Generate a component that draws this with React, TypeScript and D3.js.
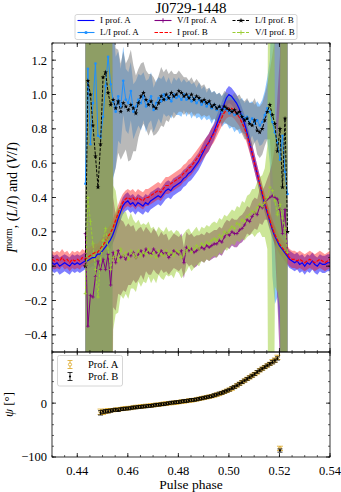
import React from 'react';
import * as d3 from 'd3';

const TITLE = 'J0729-1448';
const X_TICKS = [0.44, 0.46, 0.48, 0.5, 0.52, 0.54];
const X_TICK_LABELS = ['0.44', '0.46', '0.48', '0.50', '0.52', '0.54'];
const Y_TICKS_TOP = [-0.4, -0.2, 0, 0.2, 0.4, 0.6, 0.8, 1.0, 1.2];
const Y_TICK_LABELS_TOP = ['\u22120.4', '\u22120.2', '0.0', '0.2', '0.4', '0.6', '0.8', '1.0', '1.2'];
const Y_TICKS_PA = [-100, 0];
const Y_TICK_LABELS_PA = ['\u2212100', '0'];

// phase bins
const BIN = 0.001;
const I_PHASE0 = 0.43;
const LV_PHASE0 = 0.4432;
const PA_PHASE0 = 0.4492;

// Normalised total intensity
const I_A = [
  0.02, 0.01, 0.02, 0.0, 0.01, 0.02, 0.01, 0.0, 0.02, 0.01,
  0.02, 0.01, 0.02, 0.03, 0.03, 0.04, 0.05, 0.05, 0.07, 0.07,
  0.09, 0.11, 0.13, 0.15, 0.18, 0.22, 0.27, 0.31, 0.35, 0.37,
  0.38, 0.36, 0.37, 0.35, 0.37, 0.36, 0.35, 0.37, 0.36, 0.38,
  0.39, 0.4, 0.41, 0.4, 0.42, 0.44, 0.45, 0.44, 0.46, 0.47,
  0.48, 0.49, 0.51, 0.52, 0.54, 0.55, 0.57, 0.59, 0.61, 0.64,
  0.67, 0.7, 0.72, 0.75, 0.78, 0.82, 0.86, 0.9, 0.94, 0.98,
  1.0, 0.99, 0.97, 0.95, 0.92, 0.88, 0.84, 0.79, 0.73, 0.67,
  0.61, 0.55, 0.49, 0.43, 0.37, 0.32, 0.27, 0.22, 0.18, 0.15,
  0.12, 0.1, 0.08, 0.06, 0.04, 0.03, 0.02, 0.03, 0.01, 0.02,
  0.0, 0.02, 0.01, 0.03, 0.01, 0.0, 0.02, 0.01, 0.01, 0.02, 0.02,
];
const I_B = [
  0.04, 0.03, 0.04, 0.03, 0.05, 0.03, 0.04, 0.02, 0.04, 0.03,
  0.04, 0.03, 0.05, 0.04, 0.05, 0.06, 0.07, 0.08, 0.08, 0.1,
  0.12, 0.14, 0.17, 0.19, 0.22, 0.26, 0.3, 0.34, 0.37, 0.39,
  0.4, 0.39, 0.4, 0.38, 0.4, 0.39, 0.38, 0.4, 0.4, 0.41,
  0.42, 0.43, 0.44, 0.43, 0.45, 0.47, 0.47, 0.48, 0.49, 0.5,
  0.51, 0.52, 0.54, 0.55, 0.57, 0.58, 0.6, 0.62, 0.64, 0.66,
  0.68, 0.7, 0.72, 0.75, 0.77, 0.8, 0.83, 0.86, 0.89, 0.91,
  0.92, 0.92, 0.91, 0.89, 0.87, 0.84, 0.81, 0.77, 0.72, 0.67,
  0.61, 0.55, 0.49, 0.44, 0.38, 0.33, 0.28, 0.23, 0.19, 0.16,
  0.13, 0.11, 0.09, 0.07, 0.05, 0.04, 0.04, 0.03, 0.04, 0.03,
  0.02, 0.03, 0.04, 0.03, 0.02, 0.03, 0.04, 0.03, 0.02, 0.03, 0.04,
];
const I_A_ERR = 0.05;
const I_B_ERR = 0.05;

// Linear polarisation fraction
const L_A = [
  0.48, 1.15, 0.71, 0.95, 1.18, 0.76, 0.75, 0.87, 1.05, 1.22, 1.06,
  0.96, 0.9, 0.99, 0.93, 1.08, 0.97, 0.95, 1.02, 0.9, 0.93,
  0.97, 0.95, 0.99, 0.93, 0.96, 0.99, 0.91, 0.95, 0.98, 0.96,
  1.0, 0.97, 0.99, 0.96, 1.0, 0.98, 0.99, 0.97, 1.0, 0.97,
  0.99, 0.96, 0.98, 0.95, 0.97, 0.94, 0.96, 0.93, 0.95, 0.92,
  0.94, 0.91, 0.93, 0.9, 0.92, 0.91, 0.89, 0.9, 0.88, 0.89,
  0.87, 0.88, 0.86, 0.87, 0.84, 0.86, 0.83, 0.85, 0.82, 0.84,
  0.88, 0.92, 0.9, 0.84, 0.78, 0.72, 0.62, 0.76, 0.55, 0.42,
];
const L_A_ERR = [
  3, 3, 3, 3, 3, 3, 3, 3, 3, 3, 3,
  0.45, 0.32, 0.26, 0.22, 0.2, 0.18, 0.18, 0.17, 0.16, 0.15,
  0.15, 0.16, 0.14, 0.15, 0.13, 0.14, 0.13, 0.13, 0.12, 0.13,
  0.11, 0.1, 0.11, 0.1, 0.1, 0.1, 0.11, 0.1, 0.09, 0.1,
  0.09, 0.1, 0.09, 0.09, 0.1, 0.09, 0.09, 0.08, 0.09, 0.09,
  0.08, 0.09, 0.08, 0.09, 0.09, 0.08, 0.09, 0.09, 0.1, 0.09,
  0.1, 0.1, 0.09, 0.1, 0.11, 0.1, 0.11, 0.11, 0.12, 0.13,
  0.14, 0.18, 0.3, 0.9, 1.0, 0.9, 1.0, 3, 3, 3,
];
const L_B = [
  0.0, 1.08, 1.0, 0.82, 0.64, 0.46, 0.71, 1.1, 1.13, 1.01, 0.94,
  0.97, 0.92, 0.96, 0.9, 0.95, 0.93, 0.91, 0.94, 0.92, 0.89,
  0.95, 0.99, 1.01, 0.97, 0.94, 0.96, 0.93, 0.92, 0.95, 0.99,
  0.97, 1.0, 0.98, 1.01, 0.99, 1.0, 1.02, 1.01, 0.99, 1.0,
  0.98, 1.0, 0.97, 0.99, 0.98, 0.96, 0.97, 0.95, 0.96, 0.93,
  0.94, 0.92, 0.93, 0.91, 0.93, 0.92, 0.91, 0.9, 0.91, 0.89,
  0.9, 0.87, 0.85, 0.86, 0.83, 0.82, 0.85, 0.79, 0.78, 0.8,
  0.85, 0.9, 0.94, 0.88, 0.83, 0.67, 0.8, 0.46, 0.86, 0.2,
];
const L_B_ERR = [
  3, 3, 3, 3, 3, 3, 3, 3, 3, 3, 3,
  0.45, 0.35, 0.3, 0.28, 0.3, 0.25, 0.3, 0.32, 0.25, 0.22,
  0.2, 0.19, 0.18, 0.17, 0.18, 0.16, 0.17, 0.15, 0.16, 0.17,
  0.16, 0.15, 0.14, 0.13, 0.13, 0.12, 0.12, 0.11, 0.11, 0.1,
  0.1, 0.1, 0.1, 0.1, 0.09, 0.09, 0.09, 0.08, 0.08, 0.08,
  0.08, 0.08, 0.08, 0.08, 0.09, 0.09, 0.09, 0.09, 0.1, 0.1,
  0.1, 0.1, 0.11, 0.12, 0.12, 0.13, 0.13, 0.14, 0.15, 0.15,
  0.15, 0.16, 0.2, 0.35, 0.5, 0.8, 1.0, 3, 3, 3,
];

// Circular polarisation fraction
const V_A = [
  0.19, -0.35, -0.17, -0.18, -0.06, 0.03, -0.02, 0.04, -0.02, 0.07, -0.11,
  0.08, 0.02, 0.09, 0.05, 0.06, 0.04, 0.07, 0.06, 0.08, 0.05,
  0.07, 0.09, 0.06, 0.1, 0.08, 0.07, 0.1, 0.08, 0.06, 0.09,
  0.07, 0.08, 0.05, 0.07, 0.09, 0.08, 0.07, 0.09, 0.02, 0.11,
  0.09, 0.1, 0.08, 0.09, 0.1, 0.11, 0.1, 0.12, 0.11, 0.12,
  0.13, 0.13, 0.15, 0.14, 0.17, 0.19, 0.18, 0.2, 0.19, 0.19,
  0.21, 0.22, 0.24, 0.27, 0.26, 0.29, 0.31, 0.3, 0.35, 0.34,
  0.37, 0.39, 0.4, 0.41, 0.4, 0.39, 0.33, 0.19, 0.33, 0.07,
];
const V_A_ERR = [
  3, 3, 3, 3, 3, 3, 3, 3, 3, 3, 3,
  0.32, 0.28, 0.25, 0.22, 0.2, 0.19, 0.18, 0.17, 0.16, 0.15,
  0.15, 0.14, 0.14, 0.13, 0.13, 0.12, 0.12, 0.12, 0.11, 0.11,
  0.11, 0.11, 0.1, 0.1, 0.1, 0.1, 0.1, 0.1, 0.09, 0.09,
  0.09, 0.09, 0.09, 0.09, 0.08, 0.08, 0.08, 0.08, 0.08, 0.08,
  0.08, 0.08, 0.08, 0.08, 0.08, 0.08, 0.08, 0.08, 0.08, 0.08,
  0.08, 0.08, 0.08, 0.08, 0.08, 0.09, 0.09, 0.09, 0.1, 0.1,
  0.1, 0.12, 0.15, 0.2, 0.3, 0.6, 0.9, 3, 3, 3,
];
const V_B = [
  -0.16, 0.4, 0.26, 0.13, -0.02, -0.18, 0.04, 0.15, 0.22, 0.1, -0.02,
  0.05, 0.08, 0.03, 0.1, 0.06, 0.08, 0.04, 0.09, 0.07, 0.05,
  0.09, 0.06, 0.08, 0.07, 0.1, 0.06, 0.08, 0.05, 0.09, 0.07,
  0.06, 0.09, 0.07, 0.08, 0.06, 0.09, 0.08, 0.05, 0.07, 0.09,
  0.11, 0.08, 0.1, 0.12, 0.1, 0.13, 0.12, 0.14, 0.13, 0.15,
  0.16, 0.15, 0.18, 0.17, 0.2, 0.19, 0.21, 0.23, 0.22, 0.25,
  0.24, 0.27, 0.26, 0.29, 0.3, 0.32, 0.31, 0.34, 0.36, 0.35,
  0.37, 0.4, 0.46, 0.44, 0.38, 0.3, 0.36, 0.28, 0.22, 0.08,
];
const V_B_ERR = [
  3, 3, 3, 3, 3, 3, 3, 3, 3, 3, 3,
  0.42, 0.36, 0.3, 0.27, 0.25, 0.24, 0.23, 0.22, 0.2, 0.2,
  0.18, 0.18, 0.17, 0.17, 0.16, 0.16, 0.15, 0.15, 0.14, 0.14,
  0.14, 0.14, 0.13, 0.13, 0.13, 0.12, 0.12, 0.12, 0.12, 0.12,
  0.11, 0.11, 0.11, 0.11, 0.1, 0.1, 0.1, 0.1, 0.1, 0.1,
  0.1, 0.1, 0.1, 0.1, 0.1, 0.1, 0.1, 0.1, 0.1, 0.1,
  0.1, 0.11, 0.11, 0.12, 0.12, 0.13, 0.14, 0.15, 0.16, 0.18,
  0.2, 0.3, 3, 3, 0.5, 0.45, 0.6, 3, 3, 3,
];

// Polarisation position angle (deg)
const PA_A = [
  -16, -17, -15, -14, -13, -13, -12, -12, -11, -10,
  -10, -9, -9, -8, -7, -7, -6, -6, -5, -5,
  -4, -4, -3, -3, -2, -1, -1, 0, 0, 1,
  1, 2, 3, 3, 4, 5, 5, 6, 7, 8,
  9, 10, 11, 12, 13, 14, 16, 17, 19, 21,
  23, 25, 27, 30, 33, 36, 39, 42, 45, 48,
  51, 54, 57, 61, 64, 67, 70, 73, 77, 80,
  85, -84,
];
const PA_A_ERR = [
  5, 4, 4, 4, 3, 3, 3, 3, 3, 3,
  3, 3, 3, 3, 3, 3, 3, 3, 3, 3,
  3, 3, 3, 3, 3, 3, 3, 3, 3, 3,
  3, 3, 3, 3, 3, 3, 3, 3, 3, 3,
  3, 3, 3, 3, 3, 3, 3, 3, 3, 3,
  3, 3, 3, 3, 3, 3, 3, 3, 3, 3,
  3, 3, 3, 3, 3, 3, 3, 3, 4, 4,
  4, 4,
];
const PA_B = [
  -18, -16, -15, -15, -14, -13, -12, -13, -11, -11,
  -10, -10, -9, -8, -8, -7, -7, -6, -6, -5,
  -5, -4, -3, -3, -2, -2, -1, 0, 1, 1,
  2, 2, 3, 4, 4, 5, 6, 6, 7, 8,
  9, 10, 11, 12, 13, 15, 16, 18, 19, 21,
  23, 25, 28, 30, 33, 36, 39, 42, 45, 48,
  51, 54, 58, 61, 64, 67, 70, 73, 76, 79,
  83, -88,
];
const PA_B_ERR = [
  4, 3, 3, 3, 3, 2.5, 2.5, 2.5, 2.5, 2.5,
  2.5, 2.5, 2.5, 2.5, 2.5, 2.5, 2.5, 2.5, 2.5, 2.5,
  2.5, 2.5, 2.5, 2.5, 2.5, 2.5, 2.5, 2.5, 2.5, 2.5,
  2.5, 2.5, 2.5, 2.5, 2.5, 2.5, 2.5, 2.5, 2.5, 2.5,
  2.5, 2.5, 2.5, 2.5, 2.5, 2.5, 2.5, 2.5, 2.5, 2.5,
  2.5, 2.5, 2.5, 2.5, 2.5, 2.5, 2.5, 2.5, 2.5, 2.5,
  2.5, 2.5, 2.5, 2.5, 2.5, 2.5, 2.5, 2.5, 3, 3,
  3, 3,
];

type Pt = { p: number; v: number; e: number };
const build = (p0: number, vals: number[], errs: number[] | number): Pt[] =>
  vals.map((v, i) => ({ p: p0 + i * BIN, v, e: typeof errs === 'number' ? errs : errs[i] }));

const FONT = "'Liberation Serif', 'DejaVu Serif', serif";

export default function App() {
  const W = 341, H = 492;
  const L = 52, R = 330, T1 = 43, B1 = 352, T2 = 352, B2 = 457;
  const x = d3.scaleLinear().domain([0.43, 0.54]).range([L, R]);
  const y1 = d3.scaleLinear().domain([-0.5, 1.3]).range([B1, T1]);
  const y2 = d3.scaleLinear().domain([-100, 95]).range([B2, T2]);

  const iA = build(I_PHASE0, I_A, I_A_ERR);
  const iB = build(I_PHASE0, I_B, I_B_ERR);
  const lA = build(LV_PHASE0, L_A, L_A_ERR);
  const lB = build(LV_PHASE0, L_B, L_B_ERR);
  const vA = build(LV_PHASE0, V_A, V_A_ERR);
  const vB = build(LV_PHASE0, V_B, V_B_ERR);
  const paA = build(PA_PHASE0, PA_A, PA_A_ERR);
  const paB = build(PA_PHASE0, PA_B, PA_B_ERR);

  const area = d3.area<Pt>().x((d) => x(d.p)).y0((d) => y1(d.v - d.e)).y1((d) => y1(d.v + d.e));
  const line = d3.line<Pt>().x((d) => x(d.p)).y((d) => y1(d.v));
  const star = d3.symbol().type(d3.symbolStar).size(7)();
  const starLegend = d3.symbol().type(d3.symbolStar).size(9)();

  const bands = [
    { d: iA, c: 'blue', o: 0.5 },
    { d: lA, c: '#1e90ff', o: 0.5 },
    { d: vA, c: 'purple', o: 0.55 },
    { d: iB, c: 'red', o: 0.4 },
    { d: lB, c: 'grey', o: 0.55 },
    { d: vB, c: 'yellowgreen', o: 0.5 },
  ];

  const plus = (cx: number, cy: number, s = 1.7) => `M${cx - s},${cy}h${2 * s}M${cx},${cy - s}v${2 * s}`;

  const xMinor = x.ticks(22);
  const y1Minor = y1.ticks(36);
  const y2Minor = d3.range(-100, 95, 20);
  const major = 4, minor = 2;

  const legendTop = [
    { label: 'I prof. A', col: 0, row: 0, c: 'blue', dash: undefined, m: 'none' },
    { label: 'L/I prof. A', col: 0, row: 1, c: '#1e90ff', dash: undefined, m: 'dot' },
    { label: 'V/I prof. A', col: 1, row: 0, c: 'purple', dash: undefined, m: 'plus' },
    { label: 'I prof. B', col: 1, row: 1, c: 'red', dash: '3.5,1.5', m: 'none' },
    { label: 'L/I prof. B', col: 2, row: 0, c: 'black', dash: '3,1.5', m: 'star' },
    { label: 'V/I prof. B', col: 2, row: 1, c: 'yellowgreen', dash: '3,1.5', m: 'plus' },
  ];
  const colX = [77.5, 154.5, 232.5];
  const rowY = [20.5, 32.5];

  return (
    <svg width={W} height={H} style={{ position: 'absolute', left: 0, top: 0, background: 'white' }} fontFamily={FONT}>
      <defs>
        <clipPath id="clipTop">
          <rect x={L} y={T1} width={R - L} height={B1 - T1} />
        </clipPath>
        <clipPath id="clipBot">
          <rect x={L} y={T2} width={R - L} height={B2 - T2} />
        </clipPath>
      </defs>
      <rect x={0} y={0} width={W} height={H} fill="white" />
      <text x={(L + R) / 2} y={12.5} textAnchor="middle" fontSize={15}>{TITLE}</text>

      {/* top panel */}
      <g clipPath="url(#clipTop)">
        {bands.map((b, i) => (
          <path key={i} d={area(b.d) || ''} fill={b.c} fillOpacity={b.o} stroke="none" />
        ))}
        <path d={line(iA) || ''} fill="none" stroke="blue" strokeWidth={1.2} />
        <path d={line(lA) || ''} fill="none" stroke="#1e90ff" strokeWidth={1} />
        {lA.map((d, i) => (
          <circle key={i} cx={x(d.p)} cy={y1(d.v)} r={1.3} fill="#1e90ff" />
        ))}
        <path d={line(vA) || ''} fill="none" stroke="purple" strokeWidth={1} />
        <path d={vA.map((d) => plus(x(d.p), y1(d.v))).join('')} stroke="purple" strokeWidth={0.8} fill="none" />
        <path d={line(iB) || ''} fill="none" stroke="red" strokeWidth={1.2} strokeDasharray="3.5,1.5" />
        <path d={line(lB) || ''} fill="none" stroke="black" strokeWidth={1} strokeDasharray="3,1.5" />
        {lB.map((d, i) => (
          <path key={i} d={star || ''} transform={`translate(${x(d.p)},${y1(d.v)})`} fill="black" />
        ))}
        <path d={line(vB) || ''} fill="none" stroke="yellowgreen" strokeWidth={1} strokeDasharray="3,1.5" />
        <path d={vB.map((d) => plus(x(d.p), y1(d.v))).join('')} stroke="yellowgreen" strokeWidth={0.8} fill="none" />
      </g>

      {/* bottom panel */}
      <g clipPath="url(#clipBot)">
        {paA.map((d, i) => {
          const cx = x(d.p);
          return (
            <g key={i} stroke="goldenrod" strokeWidth={0.8} fill="none">
              <line x1={cx} x2={cx} y1={y2(d.v - d.e)} y2={y2(d.v + d.e)} />
              <line x1={cx - 3} x2={cx + 3} y1={y2(d.v - d.e)} y2={y2(d.v - d.e)} />
              <line x1={cx - 3} x2={cx + 3} y1={y2(d.v + d.e)} y2={y2(d.v + d.e)} />
              <circle cx={cx} cy={y2(d.v)} r={1.6} />
            </g>
          );
        })}
        {paB.map((d, i) => {
          const cx = x(d.p);
          return (
            <g key={i} stroke="black" strokeWidth={0.8} fill="none">
              <line x1={cx} x2={cx} y1={y2(d.v - d.e)} y2={y2(d.v + d.e)} />
              <line x1={cx - 2.5} x2={cx + 2.5} y1={y2(d.v - d.e)} y2={y2(d.v - d.e)} />
              <line x1={cx - 2.5} x2={cx + 2.5} y1={y2(d.v + d.e)} y2={y2(d.v + d.e)} />
              <circle cx={cx} cy={y2(d.v)} r={1} fill="black" stroke="none" />
            </g>
          );
        })}
      </g>

      {/* frames */}
      <rect x={L} y={T1} width={R - L} height={B1 - T1} fill="none" stroke="black" strokeWidth={0.8} />
      <rect x={L} y={T2} width={R - L} height={B2 - T2} fill="none" stroke="black" strokeWidth={0.8} />

      {/* x ticks */}
      {[T1, B1, T2, B2].map((yy, k) => {
        const dir = k === 0 || k === 2 ? 1 : -1;
        return (
          <g key={k}>
            {xMinor.map((t, i) => (
              <line key={'m' + i} x1={x(t)} x2={x(t)} y1={yy} y2={yy + dir * minor} stroke="black" strokeWidth={0.6} />
            ))}
            {X_TICKS.map((t, i) => (
              <line key={'M' + i} x1={x(t)} x2={x(t)} y1={yy} y2={yy + dir * major} stroke="black" strokeWidth={0.8} />
            ))}
          </g>
        );
      })}
      {X_TICKS.map((t, i) => (
        <text key={i} x={x(t)} y={474.5} textAnchor="middle" fontSize={12.5}>{X_TICK_LABELS[i]}</text>
      ))}

      {/* y ticks */}
      {[L, R].map((xx, k) => {
        const dir = k === 0 ? 1 : -1;
        return (
          <g key={k}>
            {y1Minor.map((t, i) => (
              <line key={'m' + i} x1={xx} x2={xx + dir * minor} y1={y1(t)} y2={y1(t)} stroke="black" strokeWidth={0.6} />
            ))}
            {Y_TICKS_TOP.map((t, i) => (
              <line key={'M' + i} x1={xx} x2={xx + dir * major} y1={y1(t)} y2={y1(t)} stroke="black" strokeWidth={0.8} />
            ))}
            {y2Minor.map((t, i) => (
              <line key={'pm' + i} x1={xx} x2={xx + dir * minor} y1={y2(t)} y2={y2(t)} stroke="black" strokeWidth={0.6} />
            ))}
            {Y_TICKS_PA.map((t, i) => (
              <line key={'pM' + i} x1={xx} x2={xx + dir * major} y1={y2(t)} y2={y2(t)} stroke="black" strokeWidth={0.8} />
            ))}
          </g>
        );
      })}
      {Y_TICKS_TOP.map((t, i) => (
        <text key={i} x={47} y={y1(t)} dy="0.35em" textAnchor="end" fontSize={12.5}>{Y_TICK_LABELS_TOP[i]}</text>
      ))}
      {Y_TICKS_PA.map((t, i) => (
        <text key={i} x={47} y={y2(t)} dy="0.35em" textAnchor="end" fontSize={12.5}>{Y_TICK_LABELS_PA[i]}</text>
      ))}

      {/* axis labels */}
      <text x={(L + R) / 2} y={488.5} textAnchor="middle" fontSize={13.5}>Pulse phase</text>
      <text transform={`translate(17,${(T1 + B1) / 2}) rotate(-90)`} textAnchor="middle" fontSize={14}>
        <tspan fontStyle="italic">I</tspan>
        <tspan fontSize={9.5} dy={-5.5}>norm</tspan>
        <tspan dy={5.5}>,  (</tspan>
        <tspan fontStyle="italic">L</tspan>
        <tspan>/</tspan>
        <tspan fontStyle="italic">I</tspan>
        <tspan>)  and  (</tspan>
        <tspan fontStyle="italic">V</tspan>
        <tspan>/</tspan>
        <tspan fontStyle="italic">I</tspan>
        <tspan>)</tspan>
      </text>
      <text transform={`translate(13,${(T2 + B2) / 2}) rotate(-90)`} textAnchor="middle" fontSize={13}>
        <tspan fontStyle="italic">ψ</tspan>
        <tspan> [°]</tspan>
      </text>

      {/* top legend */}
      <rect x={75} y={14.5} width={222} height={25} rx={2} fill="white" fillOpacity={0.85} stroke="#cccccc" strokeWidth={0.8} />
      {legendTop.map((it, i) => {
        const x0 = colX[it.col], yy = rowY[it.row];
        const cx = x0 + 8.5;
        return (
          <g key={i}>
            <line x1={x0} x2={x0 + 17} y1={yy} y2={yy} stroke={it.c} strokeWidth={1.1} strokeDasharray={it.dash} />
            {it.m === 'dot' && <circle cx={cx} cy={yy} r={1.6} fill={it.c} />}
            {it.m === 'plus' && <path d={plus(cx, yy, 2.2)} stroke={it.c} strokeWidth={0.9} />}
            {it.m === 'star' && <path d={starLegend || ''} transform={`translate(${cx},${yy})`} fill={it.c} />}
            <text x={x0 + 22.5} y={yy} dy="0.33em" fontSize={9}>{it.label}</text>
          </g>
        );
      })}

      {/* PA legend */}
      <rect x={57.5} y={355.5} width={65} height={30.5} rx={2} fill="white" fillOpacity={0.85} stroke="#cccccc" strokeWidth={0.8} />
      {[
        { label: 'Prof. A', c: 'goldenrod', yy: 364.5, open: true },
        { label: 'Prof. B', c: 'black', yy: 376.5, open: false },
      ].map((it, i) => (
        <g key={i} stroke={it.c} strokeWidth={0.8}>
          <line x1={70} x2={70} y1={it.yy - 4} y2={it.yy + 4} />
          <line x1={67.5} x2={72.5} y1={it.yy - 4} y2={it.yy - 4} />
          <line x1={67.5} x2={72.5} y1={it.yy + 4} y2={it.yy + 4} />
          {it.open ? (
            <circle cx={70} cy={it.yy} r={1.6} fill="white" />
          ) : (
            <circle cx={70} cy={it.yy} r={1.1} fill="black" stroke="none" />
          )}
          <text x={88} y={it.yy} dy="0.33em" fontSize={10.5} stroke="none" fill="black">{it.label}</text>
        </g>
      ))}
    </svg>
  );
}
